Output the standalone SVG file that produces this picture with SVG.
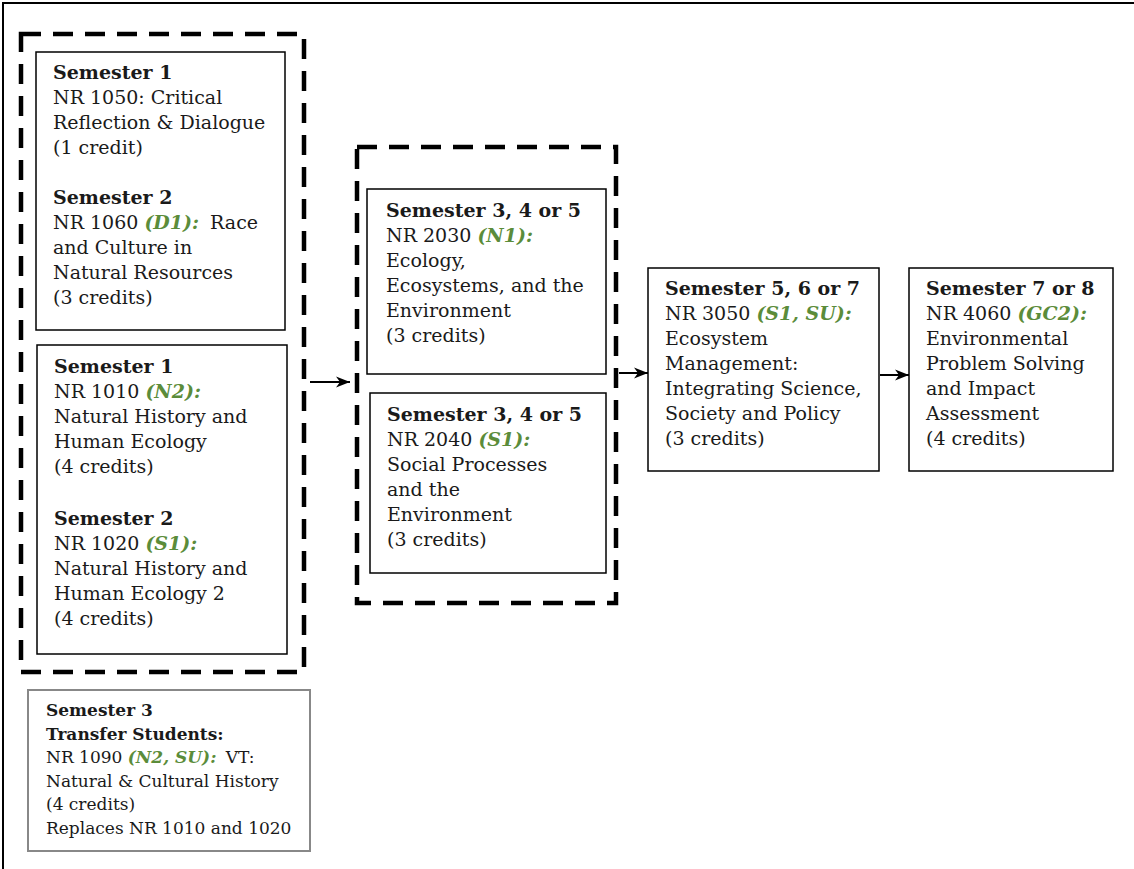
<svg xmlns="http://www.w3.org/2000/svg" width="1134" height="869" viewBox="0 0 1134 869">
<style>
text{font-family:"DejaVu Serif","Liberation Serif",serif;font-size:19px;fill:#1a1a1a}
.b{font-weight:bold}
.g{font-weight:bold;font-style:italic;fill:#5b8c3a}
.box{fill:#fff;stroke:#000;stroke-width:1.5}
.gray{fill:#fff;stroke:#888;stroke-width:2}
.dash{fill:none;stroke:#000;stroke-width:4.5;stroke-dasharray:20 12}
.conn{stroke:#000;stroke-width:2;fill:none}
</style>
<defs>
<marker id="ah" markerWidth="15" markerHeight="12" refX="14" refY="6" orient="auto" markerUnits="userSpaceOnUse">
<path d="M0,0.5 L14,6 L0,11.5 L4,6 Z" fill="#000"/>
</marker>
</defs>
<rect width="1134" height="869" fill="#fff"/>
<path d="M3,869 V3 H1134" fill="none" stroke="#000" stroke-width="2"/>
<g id="group1"><rect class="dash" x="21" y="34" width="283" height="638"/></g>
<g id="group2"><rect class="dash" x="357" y="147" width="259" height="456"/></g>
<g id="nodeA">
<rect class="box" x="36" y="52" width="249" height="278"/>
<text x="53" y="79"><tspan class="b">Semester 1</tspan><tspan x="53" dy="25">NR 1050: Critical</tspan><tspan x="53" dy="25">Reflection &amp; Dialogue</tspan><tspan x="53" dy="25">(1 credit)</tspan><tspan x="53" dy="50" class="b">Semester 2</tspan><tspan x="53" dy="25">NR 1060 </tspan><tspan class="g">(D1):</tspan><tspan dx="5"> Race</tspan><tspan x="53" dy="25">and Culture in</tspan><tspan x="53" dy="25">Natural Resources</tspan><tspan x="53" dy="25">(3 credits)</tspan></text>
</g>
<g id="nodeB">
<rect class="box" x="37" y="345" width="250" height="309"/>
<text x="54" y="373"><tspan class="b">Semester 1</tspan><tspan x="54" dy="25">NR 1010 </tspan><tspan class="g">(N2):</tspan><tspan x="54" dy="25">Natural History and</tspan><tspan x="54" dy="25">Human Ecology</tspan><tspan x="54" dy="25">(4 credits)</tspan><tspan x="54" dy="52" class="b">Semester 2</tspan><tspan x="54" dy="25">NR 1020 </tspan><tspan class="g">(S1):</tspan><tspan x="54" dy="25">Natural History and</tspan><tspan x="54" dy="25">Human Ecology 2</tspan><tspan x="54" dy="25">(4 credits)</tspan></text>
</g>
<g id="nodeC">
<rect class="gray" x="28" y="690" width="282" height="161"/>
<text x="46" y="716" style="font-size:17px"><tspan class="b">Semester 3</tspan><tspan x="46" dy="23.5" class="b">Transfer Students:</tspan><tspan x="46" dy="23.5">NR 1090 </tspan><tspan class="g">(N2, SU):</tspan><tspan dx="4"> VT:</tspan><tspan x="46" dy="23.5">Natural &amp; Cultural History</tspan><tspan x="46" dy="23.5">(4 credits)</tspan><tspan x="46" dy="23.5">Replaces NR 1010 and 1020</tspan></text>
</g>
<g id="nodeD">
<rect class="box" x="367" y="189" width="239" height="185"/>
<text x="386" y="217"><tspan class="b">Semester 3, 4 or 5</tspan><tspan x="386" dy="25">NR 2030 </tspan><tspan class="g">(N1):</tspan><tspan x="386" dy="25">Ecology,</tspan><tspan x="386" dy="25">Ecosystems, and the</tspan><tspan x="386" dy="25">Environment</tspan><tspan x="386" dy="25">(3 credits)</tspan></text>
</g>
<g id="nodeE">
<rect class="box" x="370" y="393" width="236" height="180"/>
<text x="387" y="421"><tspan class="b">Semester 3, 4 or 5</tspan><tspan x="387" dy="25">NR 2040 </tspan><tspan class="g">(S1):</tspan><tspan x="387" dy="25">Social Processes</tspan><tspan x="387" dy="25">and the</tspan><tspan x="387" dy="25">Environment</tspan><tspan x="387" dy="25">(3 credits)</tspan></text>
</g>
<g id="nodeF">
<rect class="box" x="648" y="268" width="231" height="203"/>
<text x="665" y="295"><tspan class="b">Semester 5, 6 or 7</tspan><tspan x="665" dy="25">NR 3050 </tspan><tspan class="g">(S1, SU):</tspan><tspan x="665" dy="25">Ecosystem</tspan><tspan x="665" dy="25">Management:</tspan><tspan x="665" dy="25">Integrating Science,</tspan><tspan x="665" dy="25">Society and Policy</tspan><tspan x="665" dy="25">(3 credits)</tspan></text>
</g>
<g id="nodeG">
<rect class="box" x="909" y="268" width="204" height="203"/>
<text x="926" y="295"><tspan class="b">Semester 7 or 8</tspan><tspan x="926" dy="25">NR 4060 </tspan><tspan class="g">(GC2):</tspan><tspan x="926" dy="25">Environmental</tspan><tspan x="926" dy="25">Problem Solving</tspan><tspan x="926" dy="25">and Impact</tspan><tspan x="926" dy="25">Assessment</tspan><tspan x="926" dy="25">(4 credits)</tspan></text>
</g>
<g id="connectors">
<line class="conn" x1="310" y1="382" x2="350" y2="382" marker-end="url(#ah)"/>
<line class="conn" x1="619" y1="373" x2="648" y2="373" marker-end="url(#ah)"/>
<line class="conn" x1="880" y1="375" x2="909" y2="375" marker-end="url(#ah)"/>
</g>
</svg>
